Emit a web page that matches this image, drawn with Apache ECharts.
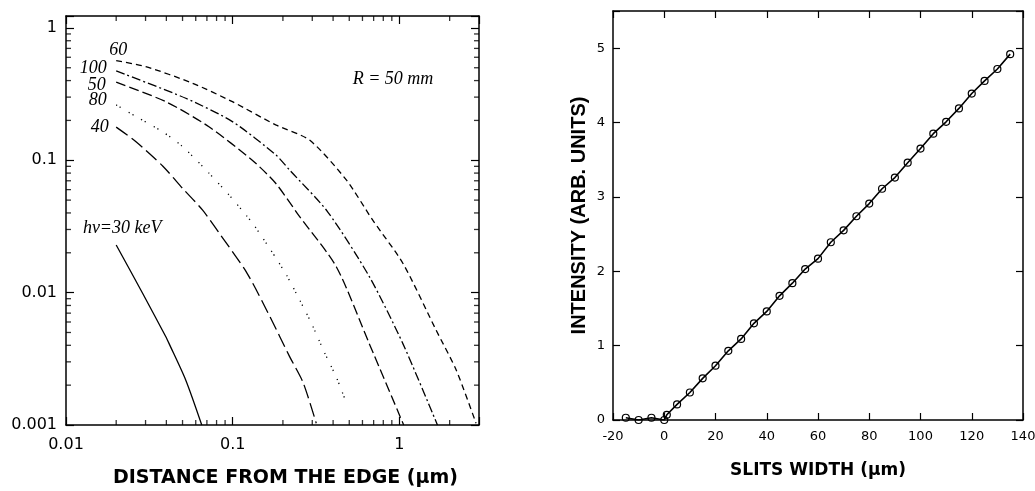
<!DOCTYPE html>
<html>
<head>
<meta charset="utf-8">
<script src="https://cdn.jsdelivr.net/npm/echarts@6/dist/echarts.min.js"></script>
<style>
  html, body { margin: 0; padding: 0; background: #fff; }
  #chart { width: 1035px; height: 491px; }
</style>
</head>
<body>
<div id="chart"></div>
<script>
// left panel: intensity vs distance from the edge, one curve per photon energy (keV)
const dist60 = [0.02, 0.0301, 0.0574, 0.0995, 0.181, 0.289, 0.48, 0.69, 1.05, 1.66, 2.19, 2.88]
const val60 = [0.566, 0.51, 0.382, 0.277, 0.185, 0.142, 0.071, 0.0354, 0.0166, 0.0052, 0.0026, 0.00103]
const dist100 = [0.02, 0.0523, 0.0995, 0.181, 0.219, 0.37, 0.66, 1.05, 1.69]
const val100 = [0.473, 0.294, 0.196, 0.11, 0.0845, 0.041, 0.0132, 0.0041, 0.001]
const dist50 = [0.02, 0.0397, 0.072, 0.131, 0.181, 0.252, 0.418, 0.66, 1.06]
const val50 = [0.389, 0.277, 0.179, 0.1, 0.067, 0.0375, 0.0157, 0.0041, 0.001]
const dist80 = [0.02, 0.0263, 0.038, 0.05, 0.072, 0.095, 0.12, 0.134, 0.169, 0.21, 0.252, 0.296, 0.356, 0.418, 0.48]
const val80 = [0.262, 0.214, 0.164, 0.127, 0.08, 0.0547, 0.0386, 0.0324, 0.021, 0.0136, 0.0088, 0.0059, 0.0035, 0.0023, 0.00147]
const dist40 = [0.02, 0.0263, 0.038, 0.05, 0.066, 0.0847, 0.122, 0.167, 0.219, 0.264, 0.317]
const val40 = [0.178, 0.138, 0.0906, 0.0614, 0.042, 0.0272, 0.014, 0.0066, 0.0033, 0.0021, 0.00103]
const dist30 = [0.02, 0.0288, 0.0397, 0.0416, 0.0523, 0.0652]
const val30 = [0.0229, 0.0099, 0.00464, 0.0041, 0.00218, 0.001]

// minor tick positions of the log axes
const minorTicksX = [0.02, 0.03, 0.04, 0.05, 0.06, 0.07, 0.08, 0.09, 0.2, 0.3, 0.4, 0.5, 0.6, 0.7, 0.8, 0.9, 2]
const minorTicksY = [0.002, 0.003, 0.004, 0.005, 0.006, 0.007, 0.008, 0.009,
  0.02, 0.03, 0.04, 0.05, 0.06, 0.07, 0.08, 0.09, 0.2, 0.3, 0.4, 0.5, 0.6, 0.7, 0.8, 0.9]

// right panel: intensity vs slits width
const slitWidth = [-15, -10, -5, 0, 1, 5, 10, 15, 20, 25, 30, 35, 40, 45, 50, 55, 60, 65, 70,
  75, 80, 85, 90, 95, 100, 105, 110, 115, 120, 125, 130, 135]
const slitIntensity = [0.03, 0.0, 0.03, 0.0, 0.07, 0.21, 0.37, 0.56, 0.73, 0.93, 1.09, 1.30, 1.46,
  1.67, 1.84, 2.03, 2.17, 2.39, 2.55, 2.74, 2.91, 3.11, 3.26, 3.46, 3.65, 3.85, 4.01, 4.19, 4.39,
  4.56, 4.72, 4.92]

const black = '#000'
const tickFont = 'DejaVu Sans'
const titleFont = 'DejaVu Sans'
const serif = 'Liberation Serif'

const leftMinX = 0.01
const leftMaxX = 3
const leftMinY = 0.001
const leftMaxY = 1.23

const curveLabel = {
  show: true,
  fontFamily: serif,
  fontStyle: 'italic',
  fontSize: 18,
  color: black
}

// 第一个点上放曲线标签 (label needs a symbol, keep it invisible)
const curve = (xs, ys, name, dash, label) => ({
  type: 'line',
  name,
  xAxisIndex: 0,
  yAxisIndex: 0,
  symbol: 'circle',
  symbolSize: 1,
  showSymbol: true,
  itemStyle: { color: 'transparent' },
  smooth: 0.25,
  lineStyle: { color: black, width: 1.3, type: dash },
  data: xs.map((x, i) => i === 0
    ? { value: [x, ys[i]], label: { ...curveLabel, formatter: name, ...label } }
    : [x, ys[i]])
})

// minor ticks drawn as thin rect symbols sitting on the frame
const minorTicks = (points, size, offset) => ({
  type: 'scatter',
  xAxisIndex: 0,
  yAxisIndex: 0,
  silent: true,
  clip: false,
  symbol: 'rect',
  symbolSize: size,
  symbolOffset: offset,
  itemStyle: { color: black },
  data: points
})

const logLabel = v => {
  const e = Math.log10(v)
  return Math.abs(e - Math.round(e)) < 1e-6 ? String(+v.toPrecision(3)) : ''
}

const axisLine = { show: true, onZero: false, lineStyle: { color: black, width: 1.5 } }
const majorTick = len => ({ show: true, inside: true, length: len, lineStyle: { color: black, width: 1.2 } })

const leftX = { type: 'log', gridIndex: 0, min: leftMinX, max: leftMaxX, axisLine, splitLine: { show: false } }
const leftY = { type: 'log', gridIndex: 0, min: leftMinY, max: leftMaxY, axisLine, splitLine: { show: false } }
const rightX = { type: 'value', gridIndex: 1, min: -20, max: 140, interval: 20, axisLine, splitLine: { show: false } }
const rightY = { type: 'value', gridIndex: 1, min: 0, max: 5.5, interval: 1, axisLine, splitLine: { show: false } }

const myChart = echarts.init(document.getElementById('chart'))
myChart.setOption({
  animation: false,
  backgroundColor: '#fff',
  grid: [
    { left: 66, top: 16, width: 413, height: 409, outerBoundsMode: 'none' },
    { left: 613, top: 11, width: 410, height: 409, outerBoundsMode: 'none' }
  ],
  xAxis: [
    {
      ...leftX,
      position: 'bottom',
      axisTick: majorTick(8),
      axisLabel: { formatter: logLabel, margin: 12, color: black, fontFamily: tickFont, fontSize: 16 },
      name: 'DISTANCE FROM THE EDGE (µm)',
      nameLocation: 'middle',
      nameGap: 44,
      nameTextStyle: { color: black, fontFamily: titleFont, fontWeight: 'bold', fontSize: 19, padding: [0, 0, 0, 26] }
    },
    { ...leftX, position: 'top', axisTick: majorTick(8), axisLabel: { show: false } },
    {
      ...rightX,
      position: 'bottom',
      axisTick: majorTick(7),
      axisLabel: { margin: 10, color: black, fontFamily: tickFont, fontSize: 13 },
      name: 'SLITS WIDTH (µm)',
      nameLocation: 'middle',
      nameGap: 42,
      nameTextStyle: { color: black, fontFamily: titleFont, fontWeight: 'bold', fontSize: 17 }
    },
    { ...rightX, position: 'top', axisTick: majorTick(7), axisLabel: { show: false } }
  ],
  yAxis: [
    {
      ...leftY,
      position: 'left',
      axisTick: majorTick(8),
      axisLabel: { formatter: logLabel, margin: 9, color: black, fontFamily: tickFont, fontSize: 16 }
    },
    { ...leftY, position: 'right', axisTick: majorTick(8), axisLabel: { show: false } },
    {
      ...rightY,
      position: 'left',
      axisTick: majorTick(7),
      axisLabel: { formatter: v => (v % 1 === 0 ? v : ''), margin: 8, color: black, fontFamily: tickFont, fontSize: 13 },
      name: 'INTENSITY (ARB. UNITS)',
      nameLocation: 'middle',
      nameGap: 24,
      nameTextStyle: { color: black, fontFamily: 'Liberation Sans', fontWeight: 'bold', fontSize: 20 }
    },
    { ...rightY, position: 'right', axisTick: majorTick(7), axisLabel: { show: false } }
  ],
  graphic: [
    {
      type: 'text',
      x: 393,
      y: 79,
      style: {
        text: 'R = 50 mm',
        fill: black,
        font: 'italic 18px "Liberation Serif"',
        align: 'center',
        verticalAlign: 'middle'
      }
    }
  ],
  series: [
    curve(dist60, val60, '60', [6, 4], { position: 'top', distance: 1, offset: [2, 0] }),
    curve(dist100, val100, '100', [9, 3, 2, 3], { position: 'left', distance: 9, offset: [0, -3] }),
    curve(dist50, val50, '50', [10, 4], { position: 'left', distance: 10, offset: [0, 3] }),
    curve(dist80, val80, '80', [1.2, 3, 1.2, 9], { position: 'left', distance: 9, offset: [0, -5] }),
    curve(dist40, val40, '40', [14, 5], { position: 'left', distance: 7 }),
    curve(dist30, val30, 'hν=30 keV', 'solid', { position: 'top', distance: 7, offset: [6, 0] }),
    minorTicks(minorTicksX.map(v => [v, leftMinY]), [1.3, 5], [0, -2.5]),
    minorTicks(minorTicksX.map(v => [v, leftMaxY]), [1.3, 5], [0, 2.5]),
    minorTicks(minorTicksY.map(v => [leftMinX, v]), [5, 1.3], [2.5, 0]),
    minorTicks(minorTicksY.map(v => [leftMaxX, v]), [5, 1.3], [-2.5, 0]),
    {
      type: 'line',
      xAxisIndex: 2,
      yAxisIndex: 2,
      symbol: 'circle',
      symbolSize: 7,
      itemStyle: { color: 'transparent', borderColor: black, borderWidth: 1.2 },
      lineStyle: { color: black, width: 1.6 },
      data: slitWidth.map((x, i) => [x, slitIntensity[i]])
    }
  ]
})
window.addEventListener('resize', () => myChart.resize(), false)
</script>
</body>
</html>
